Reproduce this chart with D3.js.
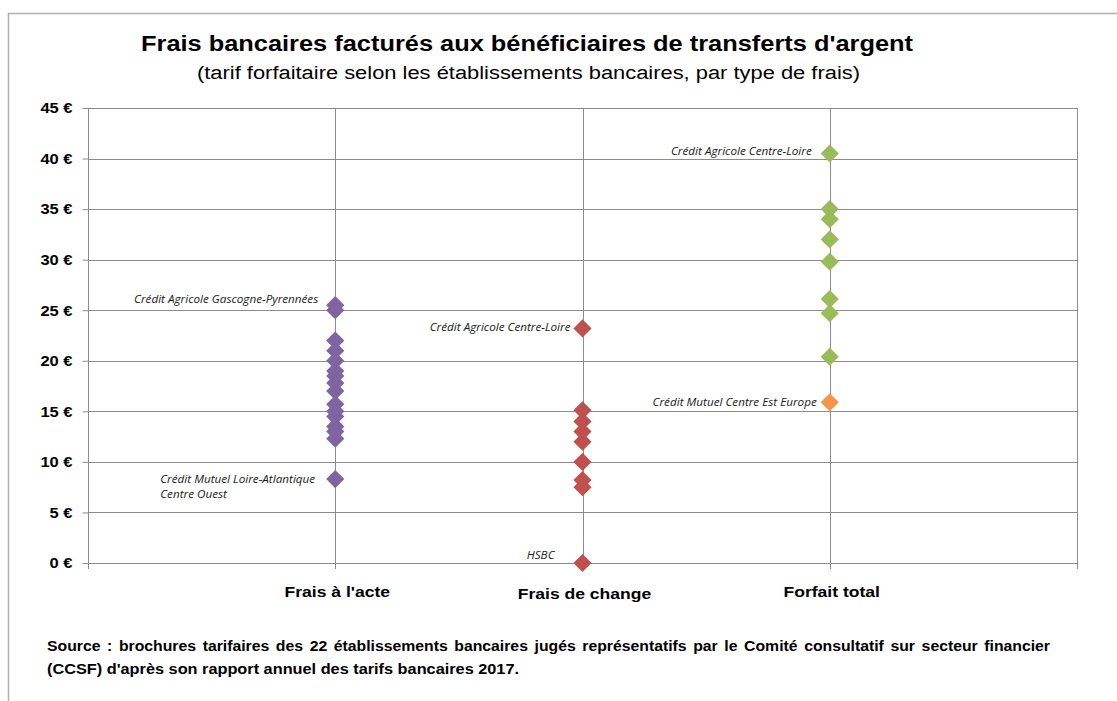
<!DOCTYPE html>
<html>
<head>
<meta charset="utf-8">
<script src="https://cdn.jsdelivr.net/npm/d3@7"></script>
<style>
  body { margin: 0; background: #fff; }
  svg { display: block; }
</style>
</head>
<body>
<div id="chart"></div>
<script>
// categories (x = 1, 2, 3 on a 0..4 axis)
var categories = ["Frais à l'acte", "Frais de change", "Forfait total"];
var yTicks = [0, 5, 10, 15, 20, 25, 30, 35, 40, 45];

// values (euros)
var fraisActe = [25.5, 25.0, 22.0, 21.0, 20.0, 19.0, 18.5, 17.8, 17.0, 15.7, 15.0, 14.5, 13.5, 13.0, 12.3, 8.3];
var fraisChange = [23.2, 15.1, 14.0, 13.0, 12.0, 10.0, 8.2, 7.5, 0];
var forfaitTotal = [40.5, 35.0, 34.0, 32.0, 29.8, 26.1, 24.7, 20.4];
var forfaitHighlight = [15.9];

// annotations : category index, value, text lines
var labels = [
    {cat: 1, value: 25.5, lines: ["Crédit Agricole Gascogne-Pyrennées"], anchor: "end", dx: -17, dy: -2},
    {cat: 1, value: 8.3, lines: ["Crédit Mutuel Loire-Atlantique", "Centre Ouest"], anchor: "start", dx: -175, dy: 4},
    {cat: 2, value: 23.2, lines: ["Crédit Agricole Centre-Loire"], anchor: "end", dx: -12, dy: 3},
    {cat: 2, value: 0, lines: ["HSBC"], anchor: "end", dx: -28, dy: -4},
    {cat: 3, value: 40.5, lines: ["Crédit Agricole Centre-Loire"], anchor: "end", dx: -18, dy: 1},
    {cat: 3, value: 15.9, lines: ["Crédit Mutuel Centre  Est Europe"], anchor: "end", dx: -13, dy: 4}
];

var series = [
    {cat: 1, values: fraisActe, color: "#8064a2"},
    {cat: 2, values: fraisChange, color: "#c0504d"},
    {cat: 3, values: forfaitTotal, color: "#9bbb59"},
    {cat: 3, values: forfaitHighlight, color: "#f79646"}
];

var W = 1117, H = 701;
var margin = {top: 108, right: 40, bottom: 138, left: 88};
var font = "'Liberation Sans', Arial, sans-serif";
var stretch = 1.17; // the original picture is a bit wider than tall

var svg = d3.select("#chart").append("svg")
    .attr("width", W)
    .attr("height", H);

// outer chart frame (only left and top visible)
svg.append("rect")
    .attr("x", 8.5).attr("y", 13.5)
    .attr("width", W + 20).attr("height", H + 20)
    .style("fill", "none")
    .style("stroke", "#b0b0b0")
    .style("stroke-width", 1.5);

// Set the ranges
var x = d3.scaleLinear().domain([0, 4]).range([margin.left, W - margin.right]);
var y = d3.scaleLinear().domain([0, 45]).range([H - margin.bottom, margin.top]);

// horizontal grid
svg.append("g")
    .selectAll("line")
    .data(yTicks)
    .enter().append("line")
    .attr("x1", x(0)).attr("x2", x(4))
    .attr("y1", function(d) { return Math.round(y(d)) + 0.5; })
    .attr("y2", function(d) { return Math.round(y(d)) + 0.5; })
    .style("stroke", "#8c8c8c")
    .style("stroke-width", 1);

// vertical grid
svg.append("g")
    .selectAll("line")
    .data([0, 1, 2, 3, 4])
    .enter().append("line")
    .attr("x1", function(d) { return Math.round(x(d)) + 0.5; })
    .attr("x2", function(d) { return Math.round(x(d)) + 0.5; })
    .attr("y1", y(45)).attr("y2", y(0) + 6)
    .style("stroke", "#8c8c8c")
    .style("stroke-width", 1);

// Y axis
var yAxis = d3.axisLeft(y)
    .tickValues(yTicks)
    .tickSize(6)
    .tickPadding(10)
    .tickFormat(function(d) { return d + " €"; });

var gy = svg.append("g")
    .attr("transform", "translate(" + (Math.round(x(0)) + 0.5) + ",0)")
    .call(yAxis);
gy.select(".domain").remove();
gy.selectAll(".tick line").style("stroke", "#8c8c8c");
gy.selectAll(".tick text")
    .attr("transform", "translate(-16,0) scale(1.1,1) translate(16,0)")
    .style("font-family", font)
    .style("font-size", "15px")
    .style("font-weight", "bold")
    .style("fill", "#000");

// category labels
svg.append("g")
    .selectAll("text")
    .data(categories)
    .enter().append("text")
    .attr("transform", function(d, i) {
        return "translate(" + (x(i + 1) + 2) + "," + (i === 1 ? 599 : 597) + ") scale(" + stretch + ",1)";
    })
    .style("text-anchor", "middle")
    .style("font-family", font)
    .style("font-size", "15px")
    .style("font-weight", "bold")
    .text(function(d) { return d; });

// diamonds
var diamond = d3.symbol().type(d3.symbolSquare).size(165);
series.forEach(function(s) {
    svg.append("g")
        .selectAll("path")
        .data(s.values)
        .enter().append("path")
        .attr("d", diamond)
        .attr("transform", function(d) {
            return "translate(" + x(s.cat) + "," + y(d) + ") rotate(45)";
        })
        .style("fill", s.color)
        .style("stroke", "none");
});

// annotations
labels.forEach(function(l) {
    var t = svg.append("text")
        .attr("transform", "translate(" + (x(l.cat) + l.dx) + "," + (y(l.value) + l.dy) + ") scale(" + stretch + ",1)")
        .style("text-anchor", l.anchor)
        .style("font-family", "'Open Sans', 'Noto Sans', sans-serif")
        .style("font-style", "italic")
        .style("font-size", "10px")
        .style("fill", "#1a1a1a");
    l.lines.forEach(function(line, i) {
        t.append("tspan")
            .attr("x", 0)
            .attr("dy", i === 0 ? 0 : 15)
            .text(line);
    });
});

// title
svg.append("text")
    .attr("x", 141).attr("y", 51)
    .attr("textLength", 772)
    .attr("lengthAdjust", "spacingAndGlyphs")
    .style("font-family", font)
    .style("font-size", "22px")
    .style("font-weight", "bold")
    .text("Frais bancaires facturés aux bénéficiaires de transferts d'argent");

svg.append("text")
    .attr("x", 197).attr("y", 79)
    .attr("textLength", 663)
    .attr("lengthAdjust", "spacingAndGlyphs")
    .style("font-family", font)
    .style("font-size", "18px")
    .text("(tarif forfaitaire selon les établissements bancaires, par type de frais)");

// source
svg.append("text")
    .attr("x", 47).attr("y", 651)
    .attr("textLength", 1003)
    .attr("lengthAdjust", "spacingAndGlyphs")
    .style("font-family", font)
    .style("font-size", "14px")
    .style("font-weight", "bold")
    .style("word-spacing", "2px")
    .text("Source : brochures tarifaires des 22 établissements  bancaires jugés représentatifs par le  Comité consultatif sur secteur financier");

svg.append("text")
    .attr("x", 47).attr("y", 674)
    .attr("textLength", 472)
    .attr("lengthAdjust", "spacingAndGlyphs")
    .style("font-family", font)
    .style("font-size", "14px")
    .style("font-weight", "bold")
    .text("(CCSF) d'après son rapport annuel des tarifs bancaires 2017.");
</script>
</body>
</html>
